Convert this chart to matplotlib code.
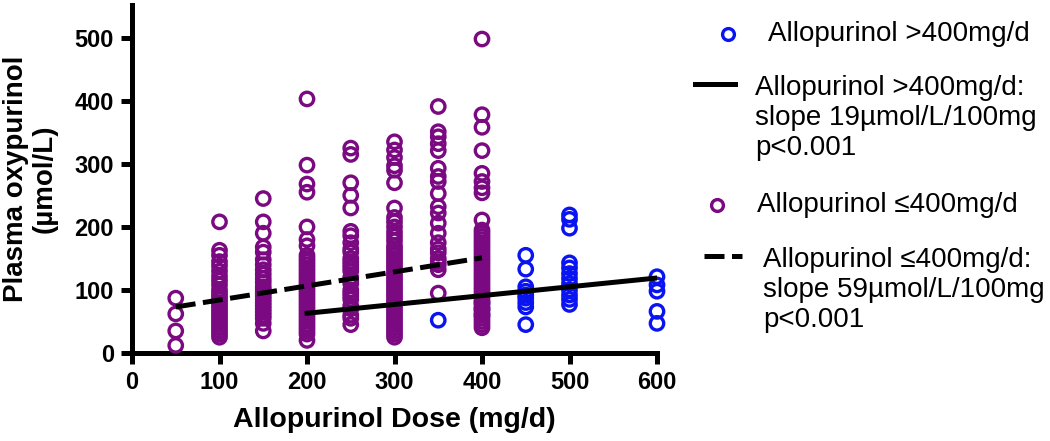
import matplotlib
matplotlib.use('Agg')
import matplotlib.pyplot as plt
from matplotlib.lines import Line2D

# Allopurinol <=400 mg/d (purple)
low_doses = [50, 100, 150, 200, 250, 300, 350, 400]
low_vals = {
    50: [87, 62, 35, 12],
    100: [208, 163, 155, 145, 138, 130, 122, 115, 108, 100, 95, 90, 85, 80, 75,
          70, 65, 60, 55, 50, 45, 40, 35, 30, 25],
    150: [245, 208, 190, 168, 160, 148, 140, 132, 125, 118, 112, 105, 100, 95, 90,
          85, 80, 75, 70, 65, 60, 55, 47, 35],
    200: [403, 298, 268, 255, 200, 180, 170, 155, 150, 145, 140, 135, 130, 125, 120,
          115, 110, 105, 100, 95, 90, 85, 80, 75, 70, 65, 60, 55, 50, 45, 40, 35, 30, 20],
    250: [325, 315, 270, 250, 230, 193, 186, 175, 165, 160, 150, 145, 140, 135, 130,
          120, 115, 110, 100, 95, 90, 85, 75, 70, 60, 55, 45],
    300: [335, 322, 310, 297, 290, 270, 230, 215, 208, 200, 192, 185, 178, 170, 165,
          160, 155, 150, 145, 140, 135, 130, 125, 120, 115, 110, 105, 100, 95, 90, 85,
          80, 75, 70, 65, 60, 55, 50, 45, 40, 35, 30, 25],
    350: [391, 351, 343, 332, 321, 293, 280, 272, 253, 232, 222, 206, 190, 175, 165,
          159, 150, 145, 140, 132, 95],
    400: [498, 378, 358, 321, 285, 272, 262, 254, 211, 195, 190, 185, 180, 175, 170,
          165, 160, 155, 150, 145, 140, 135, 130, 125, 120, 115, 110, 105, 100, 95, 90,
          85, 80, 75, 70, 65, 60, 55, 50, 45, 40],
}

# Allopurinol >400 mg/d (blue)
high_doses = [350, 400, 450, 500, 600]
high_vals = {
    350: [52],
    400: [80, 70, 60],
    450: [155, 133, 105, 98, 92, 87, 80, 73, 45],
    500: [219, 212, 198, 143, 135, 126, 118, 110, 100, 92, 85, 77],
    600: [121, 108, 98, 66, 47],
}

# regression lines (end points)
high_fit_x = [200, 600]
high_fit_y = [63, 119]
low_fit_x = [50, 400]
low_fit_y = [73, 151]

legend_labels = [
    'Allopurinol >400mg/d',
    'Allopurinol >400mg/d:\nslope 19\u00b5mol/L/100mg\np<0.001',
    'Allopurinol \u2264400mg/d',
    'Allopurinol \u2264400mg/d:\nslope 59\u00b5mol/L/100mg\np<0.001',
]

purple = '#7b0a82'
blue = '#0a14f0'
font = ['Liberation Sans', 'DejaVu Sans']
dash = (0, (4, 1.5))
W, H = 1050, 441

fig = plt.figure(figsize=(W / 100, H / 100), dpi=100)
ax = fig.add_axes([132 / W, 1 - 353 / H, 525 / W, 348 / H])

hx = [d for d in high_doses for _ in high_vals[d]]
hy = [v for d in high_doses for v in high_vals[d]]
lx = [d for d in low_doses for _ in low_vals[d]]
ly = [v for d in low_doses for v in low_vals[d]]

ax.scatter(hx, hy, s=93, facecolors='none', edgecolors=blue, linewidths=2.4,
           zorder=2, clip_on=False)
ax.scatter(lx, ly, s=93, facecolors='none', edgecolors=purple, linewidths=2.4,
           zorder=3, clip_on=False)
ax.plot(high_fit_x, high_fit_y, color='black', lw=3.6, zorder=4)
ax.plot(low_fit_x, low_fit_y, color='black', lw=3.6, ls=dash, zorder=4)

ax.set_xlim(0, 600)
ax.set_ylim(0, 552)
ax.set_xticks([0, 100, 200, 300, 400, 500, 600])
ax.set_yticks([0, 100, 200, 300, 400, 500])
for s in ['top', 'right']:
    ax.spines[s].set_visible(False)
for s in ['left', 'bottom']:
    ax.spines[s].set_linewidth(3.6)
ax.tick_params(width=3.6, length=8, direction='out', pad=5)
for lab in ax.get_xticklabels() + ax.get_yticklabels():
    lab.set_fontfamily(font)
    lab.set_fontweight('bold')
    lab.set_fontsize(17)

ax.set_xlabel('Allopurinol Dose (mg/d)', fontsize=20.5, fontweight='bold',
              family=font, labelpad=9)
ax.set_ylabel('Plasma oxypurinol\n(\u00b5mol/L)', fontsize=20, fontweight='bold',
              family=font, labelpad=12, linespacing=1.15)


# legend drawn by hand: handles sit on the first line of each entry
def fx(px):
    return px / W


def fy(py):
    return 1 - py / H


leg_handles = [
    dict(kind='marker', color=blue, x=(728,), y=34),
    dict(kind='line', ls='-', x=(695, 735), y=84),
    dict(kind='marker', color=purple, x=(717,), y=205),
    dict(kind='line', ls=dash, x=(704, 742), y=256),
]
leg_text_x = [768, 755, 757, 763]
leg_text_y = [34, 118, 205, 290]

for h, lab, tx, ty in zip(leg_handles, legend_labels, leg_text_x, leg_text_y):
    if h['kind'] == 'marker':
        fig.add_artist(Line2D([fx(h['x'][0])], [fy(h['y'])], ls='none', marker='o',
                              mfc='none', mec=h['color'], mew=2.4, ms=8.5))
    else:
        fig.add_artist(Line2D([fx(h['x'][0]), fx(h['x'][1])], [fy(h['y'])] * 2,
                              color='black', lw=3.6, ls=h['ls']))
    fig.text(fx(tx), fy(ty), lab, family=font, fontsize=20, ha='left', va='center',
             linespacing=1.2)

fig.savefig('out.png', dpi=100)
